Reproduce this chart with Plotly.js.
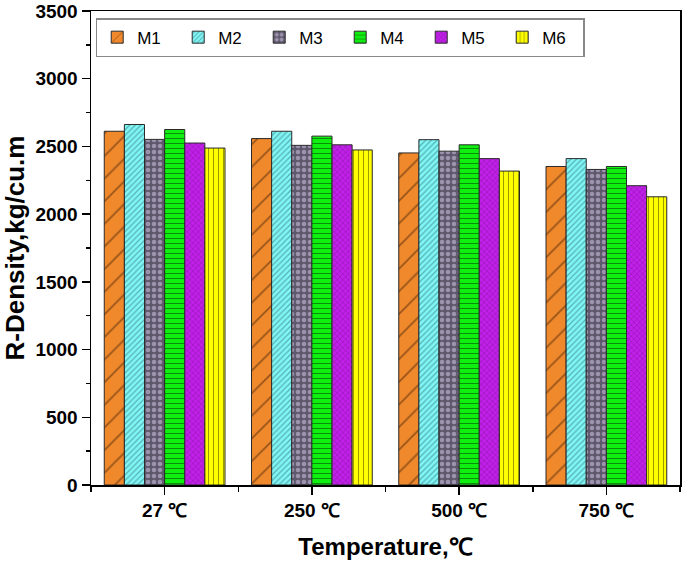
<!DOCTYPE html>
<html>
<head>
<meta charset="utf-8">
<script src="https://cdn.plot.ly/plotly-3.0.1.min.js"></script>
<style>
  html, body { margin: 0; padding: 0; background: #fff; }
  #chart { width: 685px; height: 563px; }
</style>
</head>
<body>
<div id="chart"></div>
<script>
const categories = ["27 ℃", "250 ℃", "500 ℃", "750 ℃"];
const seriesNames = ["M1", "M2", "M3", "M4", "M5", "M6"];

const m1 = [2612, 2558, 2452, 2352];
const m2 = [2662, 2612, 2550, 2410];
const m3 = [2552, 2508, 2465, 2330];
const m4 = [2625, 2576, 2512, 2352];
const m5 = [2525, 2512, 2410, 2210];
const m6 = [2488, 2474, 2318, 2128];

const yTickVals = [0, 500, 1000, 1500, 2000, 2500, 3000, 3500];

const seriesValues = [m1, m2, m3, m4, m5, m6];

const styles = [
  { bg: "#f0882c", fg: "#3a1e04", shape: "/", size: 16, solidity: 0.1 },
  { bg: "#80f6f6", fg: "#2c6a6a", shape: "/", size: 4, solidity: 0.3 },
  { bg: "#5e586c", fg: "#dccdf0", shape: ".", size: 6, solidity: 0.45 },
  { bg: "#10f010", fg: "#062806", shape: "-", size: 5, solidity: 0.2 },
  { bg: "#c020e8", fg: "#5a0870", shape: "x", size: 4, solidity: 0.25 },
  { bg: "#ffff00", fg: "#3a3a00", shape: "|", size: 5, solidity: 0.2 }
];

const xIdx = categories.map((c, i) => i);

const data = seriesNames.map((name, i) => ({
  type: "bar",
  name: name,
  x: xIdx,
  y: seriesValues[i],
  marker: {
    color: styles[i].bg,
    line: { color: "#2a2a2a", width: 1 },
    pattern: {
      shape: styles[i].shape,
      fgcolor: styles[i].fg,
      bgcolor: styles[i].bg,
      size: styles[i].size,
      solidity: styles[i].solidity,
      fillmode: "overlay"
    }
  },
  hoverinfo: "skip"
}));

const boldFont = { family: "Liberation Sans, Arial, sans-serif", color: "#000", weight: "bold" };

const layout = {
  width: 685,
  height: 563,
  margin: { t: 11, r: 5, b: 78, l: 91 },
  paper_bgcolor: "#fff",
  plot_bgcolor: "#fff",
  barmode: "group",
  bargap: 0.18,
  bargroupgap: 0,
  showlegend: true,
  legend: {
    orientation: "h",
    x: 0.008,
    y: 0.985,
    xanchor: "left",
    yanchor: "top",
    bgcolor: "#fff",
    bordercolor: "#888",
    borderwidth: 1.5,
    entrywidth: 36,
    entrywidthmode: "pixels",
    font: { family: "Liberation Sans, Arial, sans-serif", size: 17, color: "#000" }
  },
  xaxis: {
    range: [-0.5, 3.5],
    tickvals: xIdx,
    ticktext: categories,
    ticks: "outside",
    ticklen: 8,
    tickwidth: 1.5,
    tickcolor: "#000",
    minor: { tick0: 0.5, dtick: 1, ticks: "outside", ticklen: 5, tickwidth: 1.5, tickcolor: "#000", showgrid: false },
    showline: true,
    linecolor: "#000",
    linewidth: 1.5,
    mirror: true,
    showgrid: false,
    zeroline: false,
    tickfont: Object.assign({ size: 19 }, boldFont),
    title: { text: "Temperature,℃", font: Object.assign({ size: 24 }, boldFont), standoff: 18 }
  },
  yaxis: {
    range: [0, 3500],
    tickvals: yTickVals,
    ticks: "outside",
    ticklen: 8,
    tickwidth: 1.5,
    tickcolor: "#000",
    minor: { dtick: 250, ticks: "outside", ticklen: 4, tickwidth: 1.5, tickcolor: "#000", showgrid: false },
    showline: true,
    linecolor: "#000",
    linewidth: 1.5,
    mirror: true,
    showgrid: false,
    zeroline: false,
    ticklabeloverflow: "allow",
    tickfont: Object.assign({ size: 19 }, boldFont),
    title: { text: "R-Density,kg/cu.m", font: Object.assign({ size: 26 }, boldFont), standoff: 6 }
  }
};

Plotly.newPlot("chart", data, layout, { displayModeBar: false, staticPlot: true });
</script>
</body>
</html>
